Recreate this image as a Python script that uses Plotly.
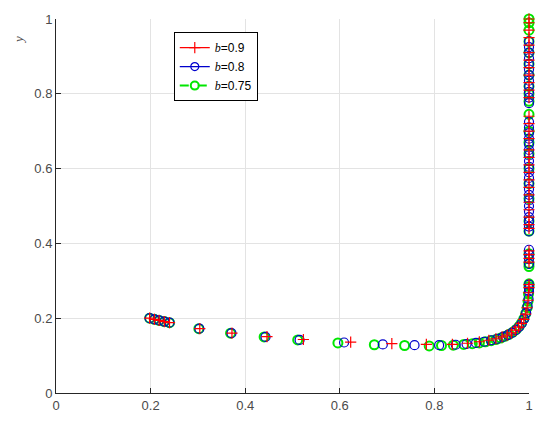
import plotly.graph_objects as go

# b = 0.9 (red, +)
x_b09 = [0.198, 0.208, 0.218, 0.229, 0.240, 0.304, 0.372, 0.446, 0.523, 0.623, 0.710, 0.783,
         0.838, 0.870, 0.895, 0.915, 0.930, 0.943, 0.954, 0.963, 0.971, 0.978, 0.984, 0.989,
         0.993, 0.996, 0.998, 0.999,
         1, 1, 1, 1, 1, 1, 1, 1, 1, 1, 1, 1, 1, 1, 1, 1, 1, 1, 1, 1, 1, 1, 1, 1, 1, 1, 1, 1,
         1, 1, 1, 1, 1, 1]
y_b09 = [0.200, 0.197, 0.194, 0.191, 0.188, 0.172, 0.160, 0.151, 0.143, 0.136, 0.132, 0.130,
         0.130, 0.133, 0.137, 0.141, 0.145, 0.150, 0.155, 0.161, 0.168, 0.176, 0.186, 0.197,
         0.211, 0.228, 0.248, 0.268,
         0.282, 0.290, 0.350, 0.360, 0.370, 0.380, 0.440, 0.450, 0.470, 0.490, 0.510, 0.530,
         0.550, 0.570, 0.590, 0.610, 0.630, 0.650, 0.680, 0.700, 0.720, 0.740, 0.790, 0.810,
         0.830, 0.850, 0.870, 0.890, 0.910, 0.930, 0.950, 0.970, 0.990, 1.000]

# b = 0.8 (blue, o)
x_b08 = [0.198, 0.208, 0.218, 0.229, 0.240, 0.303, 0.371, 0.443, 0.515, 0.609, 0.691, 0.758,
         0.810, 0.845, 0.868, 0.888, 0.905, 0.920, 0.933, 0.945, 0.955, 0.964, 0.972, 0.979,
         0.985, 0.990, 0.994, 0.997, 0.999,
         1, 1, 1, 1, 1, 1, 1, 1, 1, 1, 1, 1, 1, 1, 1, 1, 1, 1, 1, 1, 1, 1, 1, 1, 1, 1, 1, 1,
         1, 1, 1, 1, 1, 1, 1, 1, 1, 1, 1, 1]
y_b08 = [0.200, 0.197, 0.194, 0.191, 0.188, 0.172, 0.160, 0.150, 0.142, 0.135, 0.130, 0.128,
         0.128, 0.129, 0.131, 0.134, 0.137, 0.141, 0.145, 0.150, 0.155, 0.161, 0.168, 0.177,
         0.187, 0.199, 0.214, 0.232, 0.252,
         0.272, 0.280, 0.290, 0.345, 0.358, 0.370, 0.383, 0.432, 0.445, 0.458, 0.470, 0.485,
         0.500, 0.515, 0.530, 0.545, 0.560, 0.575, 0.590, 0.605, 0.620, 0.635, 0.650, 0.665,
         0.680, 0.695, 0.710, 0.725, 0.775, 0.790, 0.805, 0.820, 0.835, 0.850, 0.865, 0.880,
         0.895, 0.910, 0.925, 0.940, 0.955, 0.970, 0.985]

# b = 0.75 (green, o)
x_b075 = [0.198, 0.208, 0.218, 0.229, 0.240, 0.302, 0.369, 0.440, 0.511, 0.596, 0.673, 0.737,
          0.789, 0.815, 0.840, 0.862, 0.880, 0.895, 0.908, 0.920, 0.930, 0.940, 0.950, 0.958,
          0.966, 0.973, 0.979, 0.984, 0.989, 0.993, 0.996, 0.998, 0.999,
          1, 1, 1, 1, 1, 1, 1, 1, 1, 1, 1, 1, 1, 1, 1, 1, 1, 1, 1, 1, 1, 1, 1, 1, 1]
y_b075 = [0.200, 0.197, 0.194, 0.191, 0.188, 0.172, 0.160, 0.150, 0.142, 0.134, 0.129, 0.127,
          0.126, 0.127, 0.128, 0.130, 0.132, 0.134, 0.137, 0.140, 0.143, 0.147, 0.152, 0.157,
          0.163, 0.170, 0.178, 0.187, 0.198, 0.212, 0.228, 0.245, 0.265,
          0.285, 0.292, 0.338, 0.346, 0.372, 0.433, 0.460, 0.520, 0.560, 0.600, 0.640, 0.670,
          0.700, 0.745, 0.780, 0.800, 0.820, 0.850, 0.880, 0.910, 0.940, 0.970, 0.990, 1.000]

labels = ["0.9", "0.8", "0.75"]
b_italic = "<span style='font-family:Liberation Serif'><i>b</i></span>="

RED, BLUE, GREEN = "#ff0000", "#0000cc", "#00e600"

fig = go.Figure()

# data markers (green first so red crosses sit on top)
fig.add_trace(go.Scatter(x=x_b075, y=y_b075, mode="markers", showlegend=False, cliponaxis=False,
                         marker=dict(symbol="circle-open", size=9, color=GREEN,
                                     line=dict(width=2, color=GREEN))))
fig.add_trace(go.Scatter(x=x_b08, y=y_b08, mode="markers", showlegend=False, cliponaxis=False,
                         marker=dict(symbol="circle-open", size=9, color=BLUE,
                                     line=dict(width=1.2, color=BLUE))))
fig.add_trace(go.Scatter(x=x_b09, y=y_b09, mode="markers", showlegend=False, cliponaxis=False,
                         marker=dict(symbol="cross-thin", size=8,
                                     line=dict(width=1.2, color=RED))))

# legend entries (line + marker like the MATLAB legend)
fig.add_trace(go.Scatter(x=[None], y=[None], mode="lines+markers", name=b_italic + labels[0],
                         line=dict(color=RED, width=1.2),
                         marker=dict(symbol="cross-thin", size=8, line=dict(width=1.2, color=RED))))
fig.add_trace(go.Scatter(x=[None], y=[None], mode="lines+markers", name=b_italic + labels[1],
                         line=dict(color=BLUE, width=1.2),
                         marker=dict(symbol="circle-open", size=8, color=BLUE,
                                     line=dict(width=1.2, color=BLUE))))
fig.add_trace(go.Scatter(x=[None], y=[None], mode="lines+markers", name=b_italic + labels[2],
                         line=dict(color=GREEN, width=2, dash="dash"),
                         marker=dict(symbol="circle-open", size=8, color=GREEN,
                                     line=dict(width=2, color=GREEN))))

axis_common = dict(
    range=[0, 1],
    dtick=0.2,
    tickformat="~g",
    automargin=False,
    showgrid=True,
    gridcolor="#e3e3e3",
    gridwidth=1,
    zeroline=False,
    showline=True,
    linecolor="#262626",
    linewidth=1,
    ticks="inside",
    ticklen=5,
    tickcolor="#262626",
    tickfont=dict(family="Liberation Sans, Arial", size=13, color="#4a4a4a"),
    fixedrange=True,
)

fig.update_xaxes(**axis_common)
fig.update_yaxes(**axis_common)

fig.add_annotation(
    text="<i>y</i>", xref="paper", yref="paper", x=-0.098, y=0.96,
    showarrow=False, textangle=-90,
    font=dict(family="Liberation Serif", size=13, color="#4a4a4a"),
)

# page body has an 8px margin, so the figure is sized to fit the 550x431 window
fig.update_layout(
    width=534,
    height=415,
    margin=dict(l=48, r=13, t=11, b=30),
    plot_bgcolor="white",
    paper_bgcolor="white",
    showlegend=True,
    legend=dict(
        x=0.249, y=0.965, xanchor="left", yanchor="top",
        bgcolor="white", bordercolor="#000000", borderwidth=1,
        font=dict(family="Liberation Sans, Arial", size=12, color="#000000"),
        tracegroupgap=0, itemwidth=30,
    ),
)

fig.write_html("out.html")
